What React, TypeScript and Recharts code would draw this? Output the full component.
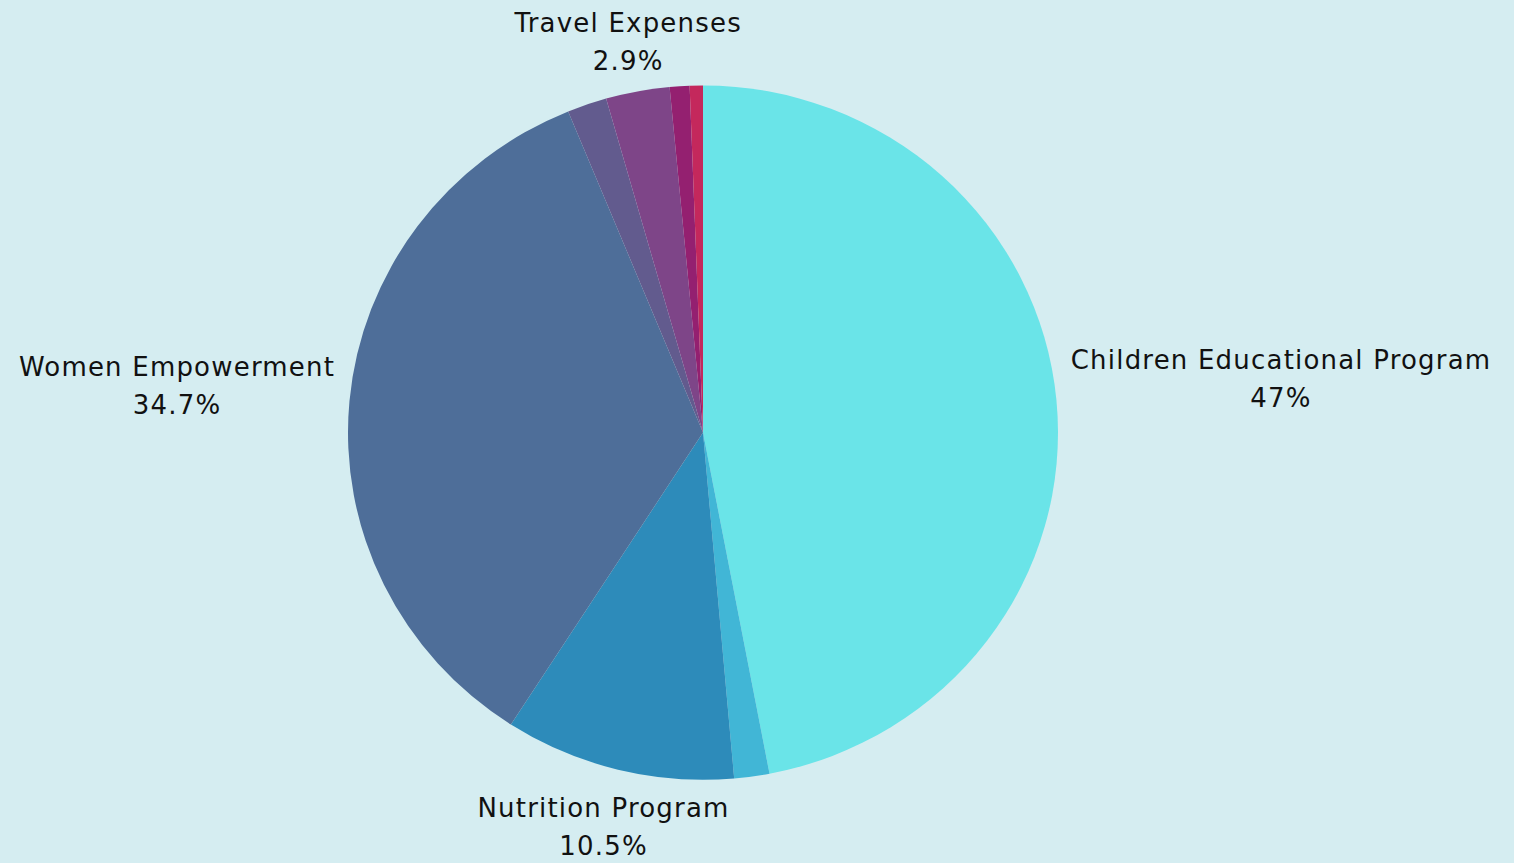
import React from "react";
import { PieChart, Pie, Cell } from "recharts";

const categories = [
  "Children Educational Program",
  "Administrative Costs",
  "Nutrition Program",
  "Women Empowerment",
  "Health Awareness",
  "Travel Expenses",
  "Office Supplies",
  "Miscellaneous",
];
const values = [47, 1.6, 10.5, 34.7, 1.8, 2.9, 0.9, 0.6];
const colors = ["#6ae4e8", "#41b6d6", "#2d8bba", "#4e6e99", "#625b8e", "#7e4588", "#942070", "#c4285c"];
const labelThreshold = 2.5;

const data = categories.map((name, i) => ({ name, value: values[i] }));

const FONT = "'DejaVu Sans', sans-serif";
const FONT_SIZE = 26;
const LETTER_SPACING = 1.2;
const LINE_GAP = 38;
const CX = 703;
const CY = 432.6;
const RADIUS = 355;
const SCALE_Y = 0.978;

let ctx: CanvasRenderingContext2D | null = null;
function measure(text: string): number {
  if (!ctx) {
    const c = document.createElement("canvas");
    ctx = c.getContext("2d");
  }
  const extra = (text.length - 1) * LETTER_SPACING;
  if (!ctx) return text.length * FONT_SIZE * 0.6 + extra;
  ctx.font = `${FONT_SIZE}px 'DejaVu Sans'`;
  return ctx.measureText(text).width + extra;
}

const RAD = Math.PI / 180;

const renderLabel = (props: any) => {
  const { cx, cy, midAngle, outerRadius, name, value } = props;
  if (value < labelThreshold) return null;
  const dx = Math.cos(-midAngle * RAD);
  const dy = Math.sin(-midAngle * RAD) * SCALE_Y;
  const r = outerRadius + 15;
  const px = cx + r * dx;
  const py = cy + r * dy;
  const pct = `${value}%`;
  const w = Math.max(measure(name), measure(pct));
  const hw = w / 2;
  const hTop = 43;
  const hBottom = 34.5;
  const hh = dy > 0 ? hTop : hBottom;
  const t = Math.min(
    Math.abs(dx) > 1e-6 ? hw / Math.abs(dx) : Infinity,
    Math.abs(dy) > 1e-6 ? hh / Math.abs(dy) : Infinity
  );
  const bx = px + dx * t;
  const by = py + dy * t;
  return (
    <text
      x={bx}
      y={by}
      textAnchor="middle"
      fill="#111111"
      fontFamily={FONT}
      fontSize={FONT_SIZE}
      fontWeight={400}
      letterSpacing={LETTER_SPACING}
    >
      <tspan x={bx} y={by - LINE_GAP / 2} dominantBaseline="central">
        {name}
      </tspan>
      <tspan x={bx} y={by + LINE_GAP / 2} dominantBaseline="central">
        {pct}
      </tspan>
    </text>
  );
};

export default function App() {
  return (
    <div
      style={{
        position: "absolute",
        left: 0,
        top: 0,
        width: 1514,
        height: 863,
        background: "#d5edf1",
      }}
    >
      <style>{`.recharts-pie .recharts-sector { transform-box: view-box; transform-origin: ${CX}px ${CY}px; transform: scaleY(${SCALE_Y}); }`}</style>
      <PieChart width={1514} height={863} margin={{ top: 0, right: 0, bottom: 0, left: 0 }}>
        <Pie
          data={data}
          dataKey="value"
          nameKey="name"
          cx={CX}
          cy={CY}
          outerRadius={RADIUS}
          startAngle={90}
          endAngle={-270}
          stroke="none"
          label={renderLabel}
          labelLine={false}
          isAnimationActive={false}
        >
          {data.map((d, i) => (
            <Cell key={d.name} fill={colors[i]} />
          ))}
        </Pie>
      </PieChart>
    </div>
  );
}
